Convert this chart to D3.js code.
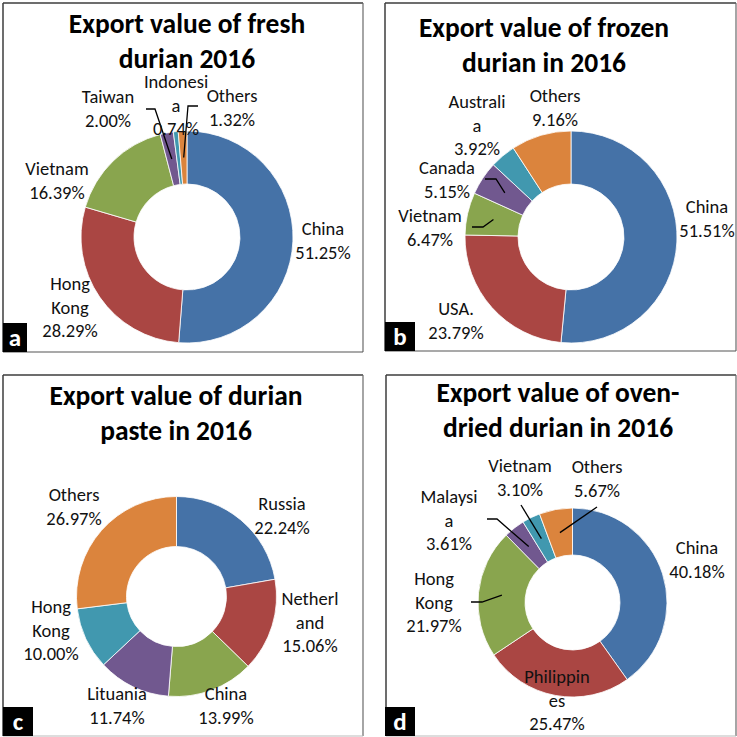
<!DOCTYPE html>
<html><head><meta charset="utf-8">
<script src="https://cdn.jsdelivr.net/npm/d3@7"></script>
<style>
html,body{margin:0;padding:0;background:#fff;}
svg{display:block;}
text{font-family:Calibri,Carlito,Lato,"Open Sans",sans-serif;fill:#111;}
</style></head>
<body>
<svg id="chart" width="737" height="737"></svg>
<script>
// ---------- DATA ----------
const titleA = ["Export value of fresh", "durian 2016"];
const catsA  = ["China", "Hong Kong", "Vietnam", "Taiwan", "Indonesia", "Others"];
const valsA  = [51.25, 28.29, 16.39, 2.00, 0.74, 1.32];

const titleB = ["Export value of frozen", "durian in 2016"];
const catsB  = ["China", "USA.", "Vietnam", "Canada", "Australia", "Others"];
const valsB  = [51.51, 23.79, 6.47, 5.15, 3.92, 9.16];

const titleC = ["Export value of durian", "paste in 2016"];
const catsC  = ["Russia", "Netherland", "China", "Lituania", "Hong Kong", "Others"];
const valsC  = [22.24, 15.06, 13.99, 11.74, 10.00, 26.97];

const titleD = ["Export value of oven-", "dried durian in 2016"];
const catsD  = ["China", "Philippines", "Hong Kong", "Malaysia", "Vietnam", "Others"];
const valsD  = [40.18, 25.47, 21.97, 3.61, 3.10, 5.67];

const panelLetters = ["a", "b", "c", "d"];
const sliceColors = ["#4572A7", "#AA4643", "#89A54E", "#71588F", "#4198AF", "#DB843D"];

// how Excel wrapped the category names
const wraps = {
  "Hong Kong": ["Hong", "Kong"],
  "Indonesia": ["Indonesi", "a"],
  "Australia": ["Australi", "a"],
  "Netherland": ["Netherl", "and"],
  "Malaysia": ["Malaysi", "a"],
  "Philippines": ["Philippin", "es"]
};

// ---------- LAYOUT ----------
const layouts = [
  { box:[3,3,363,352], cx:187, cy:237, ro:106, ri:53, titleX:187, titleY:33,
    labels:[[136,-2],[-117,53],[-130,-62],[-79,-134],[-11,-149],[45,-135]],
    leaders:{3:[[-41,-128],[-32,-128]], 5:[[11,-131],[1,-131]]} },
  { box:[385,3,736,351], cx:571, cy:237, ro:106, ri:53, titleX:544, titleY:37,
    labels:[[136,-24],[-115,78],[-141,-15],[-124,-63],[-94,-129],[-16,-135]],
    leaders:{2:[[-99,-10],[-88,-10]], 3:[[-86,-58],[-75,-58]]} },
  { box:[3,375,363,736], cx:176.5, cy:596.5, ro:100, ri:50, titleX:176, titleY:405,
    labels:[[105.5,-86.5],[133.5,8.5],[49.5,103.5],[-59.5,103.5],[-125.5,16.5],[-102.5,-95.5]],
    leaders:{} },
  { box:[386,375,736,736], cx:572.5, cy:602.5, ro:94.5, ri:47.5, titleX:558, titleY:402,
    labels:[[124.5,-48.5],[-15.5,80.5],[-138.5,-17.5],[-123.5,-99.5],[-52.5,-130.5],[24.5,-129.5]],
    leaders:{2:[[-101.5,-0.5],[-90.5,-0.5]], 3:[[-85.5,-83.5],[-75.5,-83.5]], 4:[[-51.5,-97.5]], 5:[[24.5,-95.5]]} }
];

const panelsData = [
  {title:titleA, cats:catsA, vals:valsA},
  {title:titleB, cats:catsB, vals:valsB},
  {title:titleC, cats:catsC, vals:valsC},
  {title:titleD, cats:catsD, vals:valsD}
];

const svg = d3.select("#chart");
const color = d3.scaleOrdinal().range(sliceColors);
const LH = 23.5;

panelsData.forEach((p, i) => {
  const L = layouts[i];
  const [x0,y0,x1,y1] = L.box;
  const g = svg.append("g");

  // frame
  g.append("line").attr("x1",x0).attr("y1",y0).attr("x2",x1).attr("y2",y0).attr("stroke","#3c3c3c").attr("stroke-width",1.5);
  g.append("line").attr("x1",x0).attr("y1",y0).attr("x2",x0).attr("y2",y1).attr("stroke","#3c3c3c").attr("stroke-width",1.5);
  g.append("line").attr("x1",x1).attr("y1",y0).attr("x2",x1).attr("y2",y1).attr("stroke","#6a6a6a").attr("stroke-width",1.2);
  g.append("line").attr("x1",x0).attr("y1",y1).attr("x2",x1).attr("y2",y1).attr("stroke", i<2 ? "#555" : "#bbb").attr("stroke-width",1.2);

  // title
  const t = g.append("text").attr("text-anchor","middle")
    .style("font-weight","bold").style("font-size","27.5px").style("fill","#000");
  p.title.forEach((line, k) => {
    t.append("tspan").attr("x", L.titleX).attr("y", L.titleY + k*35).text(line);
  });

  // donut
  const pie = d3.pie().sort(null).value(d => d.v).startAngle(0).endAngle(2*Math.PI);
  const arcs = pie(p.cats.map((c, k) => ({c, v:p.vals[k], k})));
  const arc = d3.arc().innerRadius(L.ri).outerRadius(L.ro);
  const cg = g.append("g").attr("transform", `translate(${L.cx},${L.cy})`);
  color.domain(d3.range(6));
  cg.selectAll("path").data(arcs).join("path")
    .attr("d", arc)
    .attr("fill", d => color(d.data.k))
    .attr("stroke", "#fff").attr("stroke-width", 0.8);

  // leader lines
  Object.entries(L.leaders).forEach(([k, pts]) => {
    const c = arc.centroid(arcs[+k]);
    cg.append("path")
      .attr("d", d3.line()([...pts, c]))
      .attr("fill","none").attr("stroke","#000").attr("stroke-width",1.3);
  });

  // labels
  arcs.forEach((a, k) => {
    const [dx, dy] = L.labels[k];
    const lines = (wraps[a.data.c] || [a.data.c]).concat([a.data.v.toFixed(2) + "%"]);
    const lt = cg.append("text").attr("text-anchor","middle").style("font-size","18.5px");
    lines.forEach((ln, j) => {
      lt.append("tspan").attr("x", dx).attr("y", dy + j*LH).text(ln);
    });
  });

  // panel letter
  const bw = i === 0 ? 24 : 30;
  const bx = i % 2 === 0 ? 3 : 385;
  const by = i < 2 ? y1 - 29 : 707;
  g.append("rect").attr("x", bx).attr("y", by).attr("width", bw).attr("height", 29).attr("fill","#000");
  g.append("text").attr("x", bx + bw/2).attr("y", by + 23).attr("text-anchor","middle")
    .style("font-weight","bold").style("font-size","25px").style("fill","#fff").text(panelLetters[i]);
});
</script>
</body></html>
